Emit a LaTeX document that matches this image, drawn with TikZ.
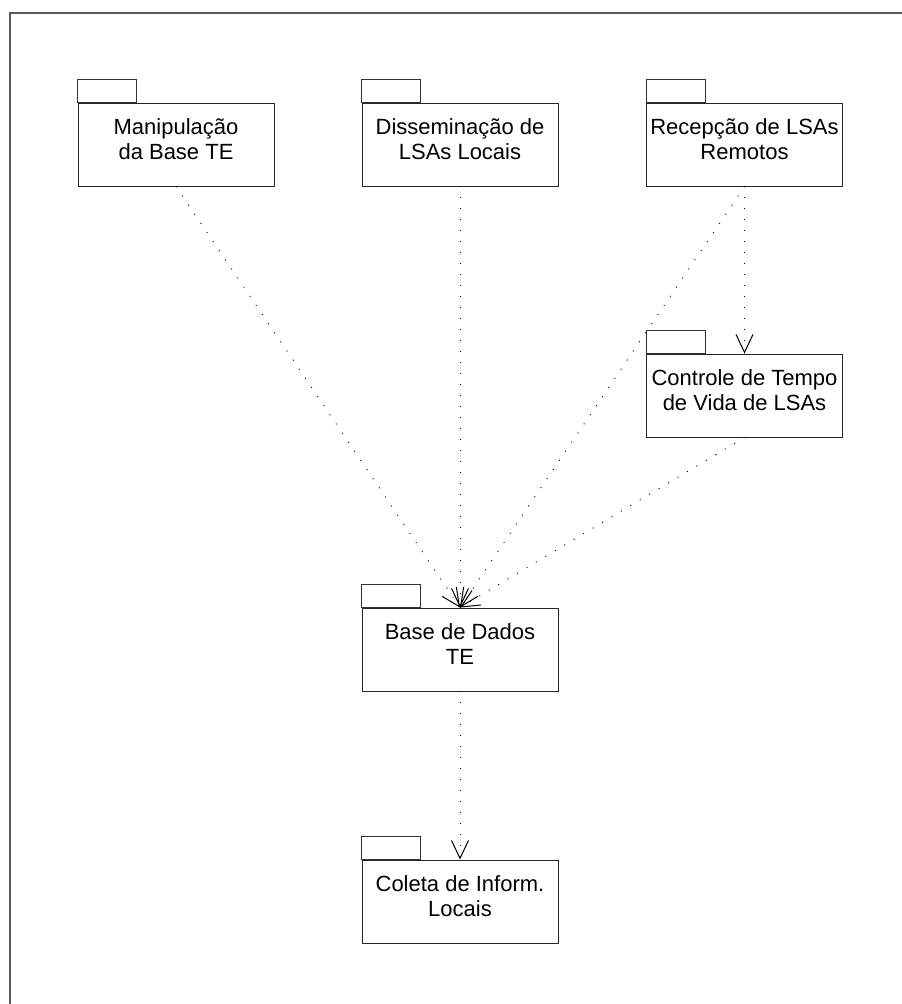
\documentclass[tikz,border=0pt]{standalone}
\usepackage{fontspec}
\setmainfont{Liberation Sans}
\usetikzlibrary{arrows.meta}
\begin{document}
\begin{tikzpicture}[x=1pt,y=-1pt,
  pkg/.style={draw=black!85, line width=0.9pt, minimum width=196pt, minimum height=83pt, inner sep=0pt, fill=white},
  tabbox/.style={draw=black!80, line width=0.9pt},
  pkgtext/.style={font=\fontsize{22}{25}\selectfont, align=center, anchor=base, inner sep=0pt},
  dep/.style={draw=black, line width=0.9pt, dash pattern=on 1pt off 10pt,
    -{Straight Barb[length=18pt,width=17pt,line width=1pt]}},
  frame/.style={draw=black!65, line width=1.4pt}
]
\useasboundingbox (0,0) rectangle (902,1004);
\fill[white] (0,0) rectangle (902,1004);
\draw[frame] (10,1010) -- (10,13) -- (910,13);

% packages
\node[pkg] (manip)  at (176,144.5) {};
\node[pkg] (dissem) at (460,144.5) {};
\node[pkg] (recep)  at (744.5,144.5) {};
\node[pkg] (ctrl)   at (744.5,395.5) {};
\node[pkg] (base)   at (460,649.5) {};
\node[pkg] (coleta) at (460,901.5) {};

\foreach \p in {manip,dissem,recep,ctrl,base,coleta}
  \draw[tabbox] (\p.north west) rectangle ++(59,-23);

\node[pkgtext] (manip-t)  at ([yshift=-57pt]manip.north)  {Manipulação\\da Base TE};
\node[pkgtext] (dissem-t) at ([yshift=-57pt]dissem.north) {Disseminação de\\LSAs Locais};
\node[pkgtext] (recep-t)  at ([yshift=-57pt]recep.north)  {Recepção de LSAs\\Remotos};
\node[pkgtext] (ctrl-t)   at ([yshift=-57pt]ctrl.north)   {Controle de Tempo\\de Vida de LSAs};
\node[pkgtext] (base-t)   at ([yshift=-57pt]base.north)   {Base de Dados\\TE};
\node[pkgtext] (coleta-t) at ([yshift=-57pt]coleta.north) {Coleta de Inform.\\Locais};

% dependencies
\draw[dep] (manip.south)  -- (base.north);
\draw[dep] (dissem.south) -- (base.north);
\draw[dep] (recep.south)  -- (base.north);
\draw[dep] (recep.south)  -- (ctrl.north);
\draw[dep] (ctrl.south)   -- (base.north);
\draw[dep] (base.south)   -- (coleta.north);
\end{tikzpicture}
\end{document}
